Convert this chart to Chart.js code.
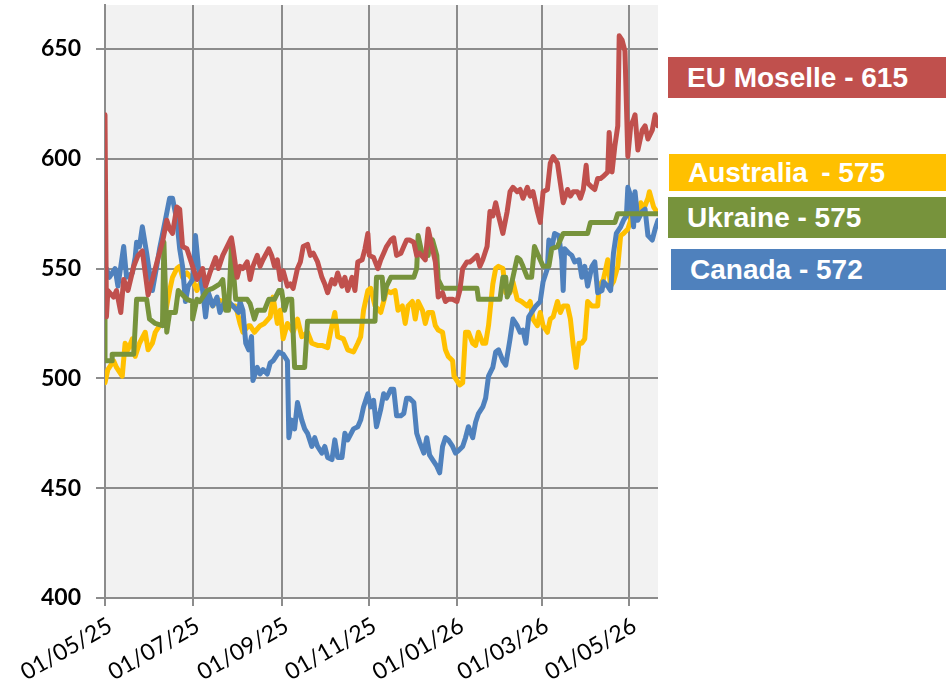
<!DOCTYPE html>
<html>
<head>
<meta charset="utf-8">
<title>Rapeseed prices</title>
<script src="https://cdn.jsdelivr.net/npm/chart.js@4.4.1/dist/chart.umd.min.js"></script>
<style>
  html, body { margin: 0; padding: 0; background: #fff; }
  #wrap { position: relative; width: 946px; height: 688px; overflow: hidden; }
  #chart { position: absolute; left: 0; top: 0; }
  .tag {
    position: absolute; right: 0; box-sizing: border-box;
    display: flex; align-items: center; color: #fff; white-space: pre;
    font: bold 28px "Liberation Sans", Arial, sans-serif;
  }
</style>
</head>
<body>
<div id="wrap">
  <canvas id="chart" width="946" height="688"></canvas>
</div>
<script>
/* ── Data (days counted from 01/05/25) ── */

const tickDays = [0, 61, 123, 184, 245, 304, 365];
const tickLabels = ['01/05/25', '01/07/25', '01/09/25', '01/11/25', '01/01/26', '01/03/26', '01/05/26'];

const euDays = [0,1,2,6,8,11,13,16,20,23, 26,28,30,33,37,40,43,45,47,50, 52,54,57,61,64,68,70,73,77,79,
  82,85,88,89,92,94,96,99,101,103, 106,108,110,114,116,118,120,122,124,127, 129,131,134,136,138,141,143,145,148,151,
  153,155,158,160,162,165,167,169,172,174, 176,179,181,183,184,187,190,192,194,196, 199,201,203,206,208,210,212,215,217,219,
  223,225,228,230,232,235,237,239,242,245, 247,249,252,254,256,259,261,263,266,268, 270,272,274,277,280,282,284,287,289,291,
  294,296,298,301,303,305,308,310,312,315, 317,319,322,324,326,329,331,333,335,336, 339,341,343,345,347,350,351,353,355,357,
  358,360,362,364,366,368,369,371,374,376, 378,381,383,385];
const euValues = [620,528,540,537,540,530,545,540,551,556, 558,548,538,545,555,562,572,568,566,578, 577,560,559,551,545,550,542,548,555,550,
  556,560,564,560,546,551,550,553,545,551, 556,551,554,559,556,551,554,545,549,542, 543,541,550,553,560,561,556,557,553,546,
  543,539,545,543,548,542,546,540,546,540, 553,554,559,566,556,555,550,554,557,560, 563,564,556,557,560,563,563,562,556,557,
  554,568,559,553,537,539,535,536,536,535, 540,550,553,553,554,556,551,554,560,576, 574,580,574,566,576,585,587,585,586,582,
  587,583,585,576,571,585,586,598,601,598, 589,580,586,583,585,585,582,586,597,589, 587,586,591,591,592,594,612,594,606,615,
  656,654,649,601,615,618,620,604,613,615, 609,613,620,615];

const auDays = [0,2,6,8,12,14,16,19,21,24, 28,30,33,35,38,40,43,45,47,50, 52,54,57,61,64,66,71,75,78,82,
  87,91,94,96,100,101,104,108,111,115, 117,120,122,124,127,131,134,137,141,144, 148,151,155,157,160,162,166,169,173,176,
  178,180,183,185,188,192,194,196,199,202, 204,207,209,211,214,216,218,221,223,225, 228,230,232,235,237,239,242,243,245,247,
  249,251,253,256,258,260,263,265,267,270, 272,274,277,279,282,284,287,290,294,296, 298,301,303,305,308,310,312,315,317,319,
  322,324,326,328,330,332,334,336,339,343, 344,347,350,352,354,357,359,361,364,366, 368,371,373,375,378,379,382,385];
const auValues = [498,504,508,505,501,516,513,518,510,516, 521,513,516,521,524,525,533,540,546,550, 551,546,548,545,540,543,540,533,536,535,
  533,533,525,521,524,524,521,524,525,528, 537,525,531,518,525,521,527,519,521,516, 515,515,514,521,530,519,518,513,512,516,
  519,531,540,541,533,530,535,540,539,540, 531,533,525,533,535,527,535,531,525,530, 530,524,522,521,513,510,508,501,499,497,
  498,521,521,516,515,521,516,516,524,543, 550,551,550,539,539,544,536,535,533,535, 527,524,530,524,521,527,528,535,530,533,
  533,527,515,505,516,516,518,535,533,533, 542,545,554,542,544,551,565,566,568,572, 578,574,580,577,582,585,578,575];

const uaDays = [0,0,5,5,20,22,29,31,35,40, 41,43,45,49,51,54,57,61,61,64, 66,68,71,75,80,82,84,86,88,91,
  99,101,104,106,111,114,118,121,123,125, 127,130,132,139,141,188,189,193,194,196, 199,215,217,218,221,225,226,228,231,232,
  235,259,260,275,277,279,280,282,284,287, 289,291,294,297,299,301,303,305,309,311, 315,319,336,338,355,357,385];
const uaValues = [528,508,508,511,511,536,536,527,525,524, 562,521,530,530,540,538,536,535,527,536, 535,537,540,541,543,545,531,531,560,536,
  536,534,527,531,531,536,536,540,540,531, 536,536,505,505,526,526,546,546,536,542, 546,546,550,565,556,556,562,563,556,545,
  541,541,536,536,546,546,537,540,546,555, 554,551,546,546,560,557,554,551,551,559, 560,566,566,571,571,575,575];

const caDays = [0,1,3,7,9,13,15,19,21,22, 24,26,29,31,33,36,38,42,45,47, 50,52,54,56,58,61,63,65,68,70,
  72,75,78,80,84,86,89,93,94,96, 98,100,102,103,106,108,110,113,115,117, 121,124,127,128,130,132,134,137,139,141,
  144,146,148,151,153,155,158,160,162,165, 167,169,173,176,178,180,183,185,187,189, 192,194,196,199,201,203,206,208,210,212,
  215,217,219,222,224,226,228,231,233,235, 237,239,242,244,246,249,251,253,256,258, 260,263,265,267,270,272,274,277,279,282,
  284,287,289,291,293,295,297,300,303,305, 308,309,311,313,316,318,319,320,323,325, 327,330,332,334,336,339,341,343,346,347,
  350,352,354,356,359,361,363,364,366,368, 369,371,374,376,378,381,383,385];
const caValues = [550,550,546,550,542,560,546,548,555,562, 560,569,557,548,540,551,559,572,582,582, 572,559,551,535,542,545,565,551,540,528,
  539,533,537,530,536,535,533,530,535,531, 516,513,519,499,505,502,504,502,507,508, 512,511,508,473,481,477,489,481,477,475,
  469,473,469,466,469,464,463,472,464,464, 475,472,477,478,481,487,493,487,490,478, 486,493,491,495,495,483,483,484,491,491,
  489,475,471,466,473,465,463,460,457,469, 473,472,469,466,467,469,473,478,473,480, 484,487,491,501,505,512,513,508,506,518,
  527,524,521,522,516,528,530,533,535,544, 550,563,559,566,565,554,540,559,557,556, 553,554,546,551,542,551,553,539,540,544,
  542,540,557,566,569,572,574,587,583,569, 585,572,576,577,565,563,568,572];

/* ── Series (first one is drawn on top) ── */

const series = [
  { name: 'EU Moselle', days: euDays, values: euValues, color: '#C0504D', tag: { top: 57, height: 41, left: 668, pad: 19 } },
  { name: 'Ukraine',    days: uaDays, values: uaValues, color: '#77933C', tag: { top: 197, height: 41, left: 668, pad: 19 } },
  { name: 'Canada',     days: caDays, values: caValues, color: '#4F81BD', tag: { top: 249, height: 41, left: 671, pad: 19 } },
  { name: 'Australia\u2009', days: auDays, values: auValues, color: '#FFC000', tag: { top: 154, height: 37, left: 669, pad: 19 } },
];

const GRID = '#8c8c8c';

const plotBg = {
  id: 'plotBg',
  beforeDraw(chart) {
    const { ctx, chartArea: a } = chart;
    ctx.save();
    ctx.fillStyle = '#F2F2F2';
    ctx.fillRect(a.left, a.top, a.right - a.left, a.bottom - a.top);
    ctx.restore();
  }
};

new Chart(document.getElementById('chart'), {
  type: 'line',
  data: {
    datasets: series.map(s => ({
      label: s.name.trim(),
      data: s.days.map((d, i) => ({ x: d, y: s.values[i] })),
      borderColor: s.color,
      backgroundColor: s.color,
      borderWidth: 5,
      borderJoinStyle: 'round',
      borderCapStyle: 'round',
      pointRadius: 0,
      tension: 0,
      fill: false,
    }))
  },
  options: {
    responsive: false,
    animation: false,
    layout: { padding: { top: 5, right: 288, left: 0, bottom: 0 } },
    plugins: { legend: { display: false }, tooltip: { enabled: false } },
    scales: {
      x: {
        type: 'linear', min: 0, max: 385,
        afterBuildTicks: s => { s.ticks = tickDays.map(v => ({ value: v })); },
        afterFit: s => { s.height = 90; s.paddingLeft = 0; s.paddingRight = 0; },
        ticks: {
          autoSkip: false, minRotation: 30, maxRotation: 30, padding: 6, labelOffset: 5,
          color: '#000', font: { family: 'Lato', size: 23 },
          callback: v => tickLabels[tickDays.indexOf(v)],
        },
        grid: { color: GRID, lineWidth: 2, tickLength: 8 },
        border: { display: false },
      },
      y: {
        min: 400, max: 670,
        afterFit: s => { s.width = 105; s.paddingTop = 0; s.paddingBottom = 0; },
        ticks: {
          stepSize: 50, includeBounds: false, padding: 15,
          color: '#000', font: { family: 'Lato', size: 23, weight: 'bold' },
        },
        grid: { color: GRID, lineWidth: 2, tickLength: 9 },
        border: { display: true, color: GRID, width: 2 },
      },
    },
  },
  plugins: [plotBg],
});

// end-of-line value tags on the right
const wrap = document.getElementById('wrap');
series.forEach(s => {
  const el = document.createElement('div');
  el.className = 'tag';
  el.style.cssText = `left:${s.tag.left}px;top:${s.tag.top}px;height:${s.tag.height}px;padding-left:${s.tag.pad}px;background:${s.color}`;
  el.textContent = `${s.name} - ${s.values[s.values.length - 1]}`;
  wrap.appendChild(el);
});
</script>
</body>
</html>
